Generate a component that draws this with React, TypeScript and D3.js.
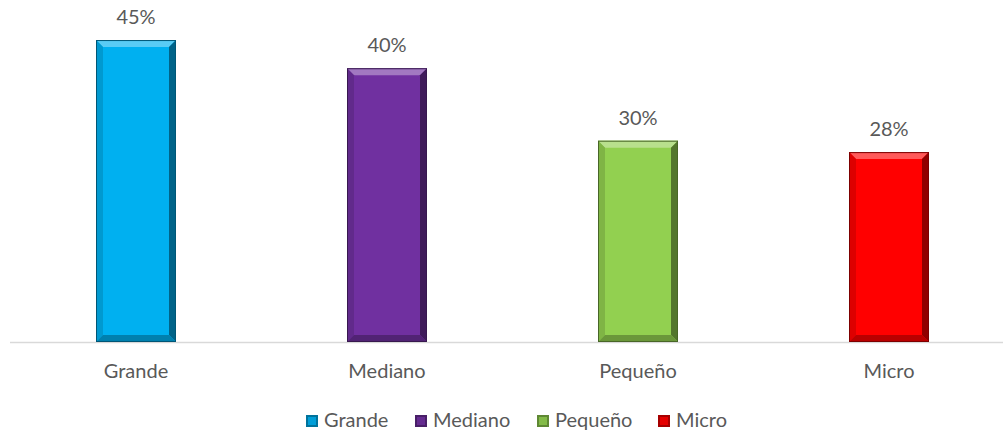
import { useEffect, useRef } from "react";
import * as d3 from "d3";

const categories = ["Grande", "Mediano", "Pequeño", "Micro"];
const values = [45.0, 40.8, 30.0, 28.3];
const valueLabels = ["45%", "40%", "30%", "28%"];
const colors = ["#00B0F0", "#7030A0", "#92D050", "#FF0000"];

const W = 1003;
const H = 431;

const App = () => {
    const svgRef = useRef<SVGSVGElement>(null);

    useEffect(() => {
        if (!svgRef.current) return;
        const svg = d3.select(svgRef.current);
        svg.selectAll("*").remove();

        const font = "Lato, 'Open Sans', sans-serif";
        const textColor = "#595959";

        const x = d3.scaleBand<string>().domain(categories).range([10.5, 1014.5]).padding(0);
        const y = d3.scaleLinear().domain([0, 50]).range([342, 6.5]);
        const barW = 80;
        const bev = 7;

        // Axis line
        svg.append("line")
            .attr("x1", 10)
            .attr("x2", W)
            .attr("y1", y(0) + 0.5)
            .attr("y2", y(0) + 0.5)
            .attr("stroke", "#d9d9d9")
            .attr("stroke-width", 1.5);

        categories.forEach((c, i) => {
            const base = d3.color(colors[i])!;
            const x0 = (x(c) as number) + (x.bandwidth() - barW) / 2;
            const x1 = x0 + barW;
            const y0 = y(values[i]);
            const y1 = y(0);
            const g = svg.append("g");

            g.append("rect")
                .attr("x", x0)
                .attr("y", y0)
                .attr("width", barW)
                .attr("height", y1 - y0)
                .attr("fill", colors[i]);

            const poly = (pts: number[][], fill: string) =>
                g.append("polygon")
                    .attr("points", pts.map((p) => p.join(",")).join(" "))
                    .attr("fill", fill);

            // top bevel (highlight)
            poly([[x0, y0], [x1, y0], [x1 - bev, y0 + bev], [x0 + bev, y0 + bev]],
                d3.interpolateRgb(colors[i], "#ffffff")(0.35));
            // left bevel
            poly([[x0, y0], [x0 + bev, y0 + bev], [x0 + bev, y1 - bev], [x0, y1]],
                base.darker(0.4).formatHex());
            // right bevel (shadow)
            poly([[x1, y0], [x1, y1], [x1 - bev, y1 - bev], [x1 - bev, y0 + bev]],
                base.darker(1.6).formatHex());
            // bottom bevel
            poly([[x0, y1], [x1, y1], [x1 - bev, y1 - bev], [x0 + bev, y1 - bev]],
                base.darker(0.9).formatHex());

            g.append("rect")
                .attr("x", x0 + 0.5)
                .attr("y", y0 + 0.5)
                .attr("width", barW - 1)
                .attr("height", y1 - y0 - 1)
                .attr("fill", "none")
                .attr("stroke", base.darker(2).formatHex())
                .attr("stroke-width", 1);

            // value label
            svg.append("text")
                .attr("x", x0 + barW / 2)
                .attr("y", y0 - 16)
                .attr("text-anchor", "middle")
                .attr("font-family", font)
                .attr("font-size", "20px")
                .attr("fill", textColor)
                .text(valueLabels[i]);

            // category label
            svg.append("text")
                .attr("x", x0 + barW / 2)
                .attr("y", 378)
                .attr("text-anchor", "middle")
                .attr("font-family", font)
                .attr("font-size", "20px")
                .attr("fill", textColor)
                .text(c);
        });

        // Legend
        const legendX = [306, 415, 537, 658];
        categories.forEach((c, i) => {
            const base = d3.color(colors[i])!;
            const lx = legendX[i];
            const ly = 415;
            const s = 12;
            const lg = svg.append("g");
            lg.append("rect").attr("x", lx).attr("y", ly).attr("width", s).attr("height", s)
                .attr("fill", base.darker(1.2).formatHex());
            lg.append("rect").attr("x", lx + 2).attr("y", ly + 2).attr("width", s - 4).attr("height", s - 4)
                .attr("fill", base.darker(0.3).formatHex());
            lg.append("text")
                .attr("x", lx + s + 6)
                .attr("y", 427)
                .attr("font-family", font)
                .attr("font-size", "20px")
                .attr("fill", textColor)
                .text(c);
        });
    }, []);

    return (
        <svg
            ref={svgRef}
            width={W}
            height={H}
            style={{ position: "absolute", left: 0, top: 0, background: "#fff", display: "block" }}
        />
    );
};

export default App;
